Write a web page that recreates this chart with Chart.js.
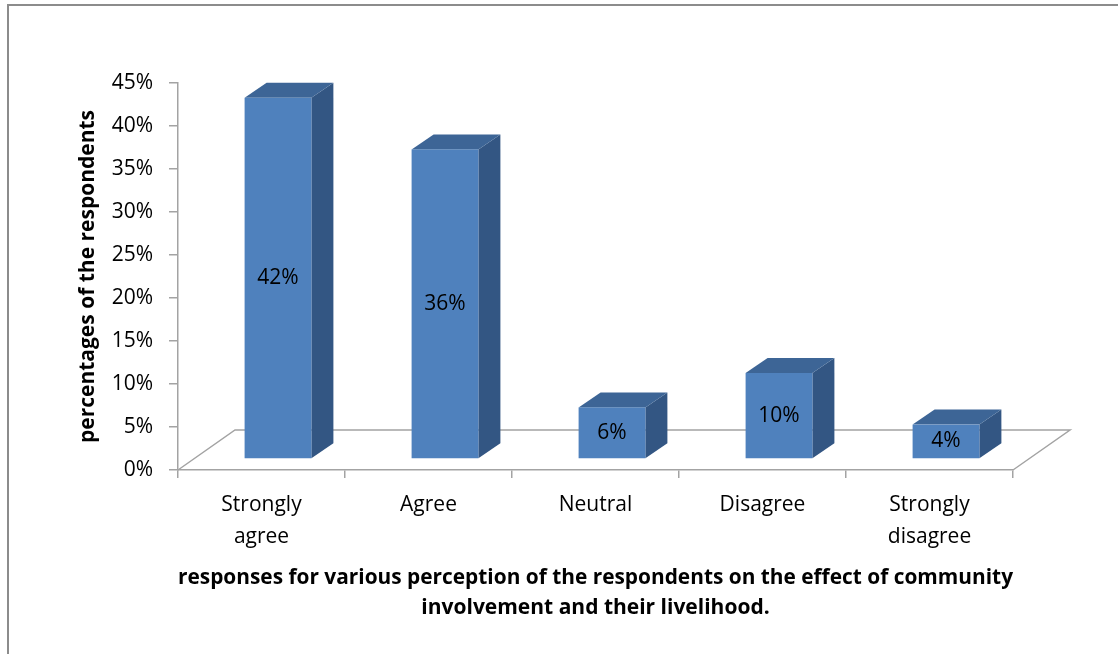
<!DOCTYPE html>
<html>
<head>
<meta charset="utf-8">
<script src="https://cdn.jsdelivr.net/npm/chart.js@4/dist/chart.umd.min.js"></script>
<style>
  html, body { margin: 0; padding: 0; background: #fff; overflow: hidden; }
  #wrap { position: relative; width: 1118px; height: 654px; }
  #frame { position: absolute; left: 7px; top: 4px; width: 2000px; height: 2000px;
           border-left: 2px solid #8c8c8c; border-top: 2px solid #8c8c8c; pointer-events: none; }
  canvas { position: absolute; left: 0; top: 0; }
</style>
</head>
<body>
<div id="wrap">
  <canvas id="chart" width="1118" height="654"></canvas>
  <div id="frame"></div>
</div>
<script>
// data
var categories = [['Strongly', 'agree'], 'Agree', 'Neutral', 'Disagree', ['Strongly', 'disagree']];
var shares = [0.42, 0.36, 0.06, 0.10, 0.04];
var yTitle = 'percentages of the respondents';
var xTitle = ['responses for various perception of the respondents on the effect of community',
              'involvement and their livelihood.'];

var FONT = '"Open Sans", Lato, sans-serif';
var axisGrey = '#a3a3a3';

// 3d look, roughly what excel does
var floorDx = 57, floorDy = 40;   // depth of the floor
var shiftX = 16.5, shiftY = 11;   // bars sit a bit behind the front edge
var depthX = 22, depthY = 15;     // depth of each bar

const bar3d = {
  id: 'bar3d',
  beforeDatasetsDraw(chart) {
    const ctx = chart.ctx, a = chart.chartArea;
    ctx.save();
    ctx.strokeStyle = axisGrey;
    ctx.lineWidth = 1.5;
    ctx.beginPath();
    ctx.moveTo(a.left, a.bottom);
    ctx.lineTo(a.left + floorDx, a.bottom - floorDy);
    ctx.lineTo(a.right + floorDx, a.bottom - floorDy);
    ctx.lineTo(a.right, a.bottom);
    ctx.stroke();
    ctx.restore();
  },
  afterDatasetsDraw(chart) {
    const ctx = chart.ctx;
    const meta = chart.getDatasetMeta(0);
    ctx.save();
    meta.data.forEach((bar, i) => {
      const w = bar.width;
      const x0 = bar.x - w / 2 + shiftX, x1 = x0 + w;
      const yT = bar.y - shiftY, yB = bar.base - shiftY;

      // side
      ctx.fillStyle = '#335683';
      ctx.beginPath();
      ctx.moveTo(x1, yT);
      ctx.lineTo(x1 + depthX, yT - depthY);
      ctx.lineTo(x1 + depthX, yB - depthY);
      ctx.lineTo(x1, yB);
      ctx.closePath();
      ctx.fill();

      // top
      ctx.fillStyle = '#3d6596';
      ctx.beginPath();
      ctx.moveTo(x0, yT);
      ctx.lineTo(x0 + depthX, yT - depthY);
      ctx.lineTo(x1 + depthX, yT - depthY);
      ctx.lineTo(x1, yT);
      ctx.closePath();
      ctx.fill();

      // front
      ctx.fillStyle = '#4f81bd';
      ctx.fillRect(x0, yT, w, yB - yT);

      // value label
      ctx.fillStyle = '#000';
      ctx.font = '21px ' + FONT;
      ctx.textAlign = 'center';
      ctx.textBaseline = 'middle';
      ctx.fillText(Math.round(shares[i] * 100) + '%', (x0 + x1) / 2, (yT + yB) / 2);
    });
    ctx.restore();
  }
};

const ctx = document.getElementById('chart').getContext('2d');
const chart = new Chart(ctx, {
  type: 'bar',
  data: {
    labels: categories,
    datasets: [{
      data: shares,
      backgroundColor: 'rgba(0,0,0,0)',
      borderWidth: 0,
      categoryPercentage: 1,
      barPercentage: 0.4
    }]
  },
  options: {
    responsive: false,
    animation: false,
    events: [],
    layout: { padding: { left: 0, right: 105, top: 83, bottom: 0 } },
    plugins: { legend: { display: false }, tooltip: { enabled: false } },
    scales: {
      x: {
        afterFit: s => { s.height = 184; },
        grid: { offset: true, drawOnChartArea: false, drawTicks: true, tickLength: 8, color: axisGrey, lineWidth: 1.5 },
        border: { color: axisGrey, width: 1.5 },
        ticks: { color: '#000', padding: 11, maxRotation: 0, autoSkip: false,
                 font: { family: FONT, size: 21, lineHeight: '32px' } },
        title: { display: true, text: xTitle, color: '#000',
                 font: { family: FONT, size: 21, weight: 'bold', lineHeight: '30px' },
                 padding: { top: 0, bottom: 31 } }
      },
      y: {
        min: 0,
        max: 0.45,
        afterFit: s => { s.width = 178; },
        grid: { drawOnChartArea: false, drawTicks: true, tickLength: 9, color: axisGrey, lineWidth: 1.5 },
        border: { color: axisGrey, width: 1.5 },
        ticks: { stepSize: 0.05, color: '#000', padding: 16,
                 font: { family: FONT, size: 21 },
                 callback: v => Math.round(v * 100) + '%' },
        title: { display: true, text: yTitle, color: '#000',
                 font: { family: FONT, size: 21, weight: 'bold', lineHeight: '26px' },
                 padding: { top: 75, bottom: 0 } }
      }
    }
  },
  plugins: [bar3d]
});
</script>
</body>
</html>
